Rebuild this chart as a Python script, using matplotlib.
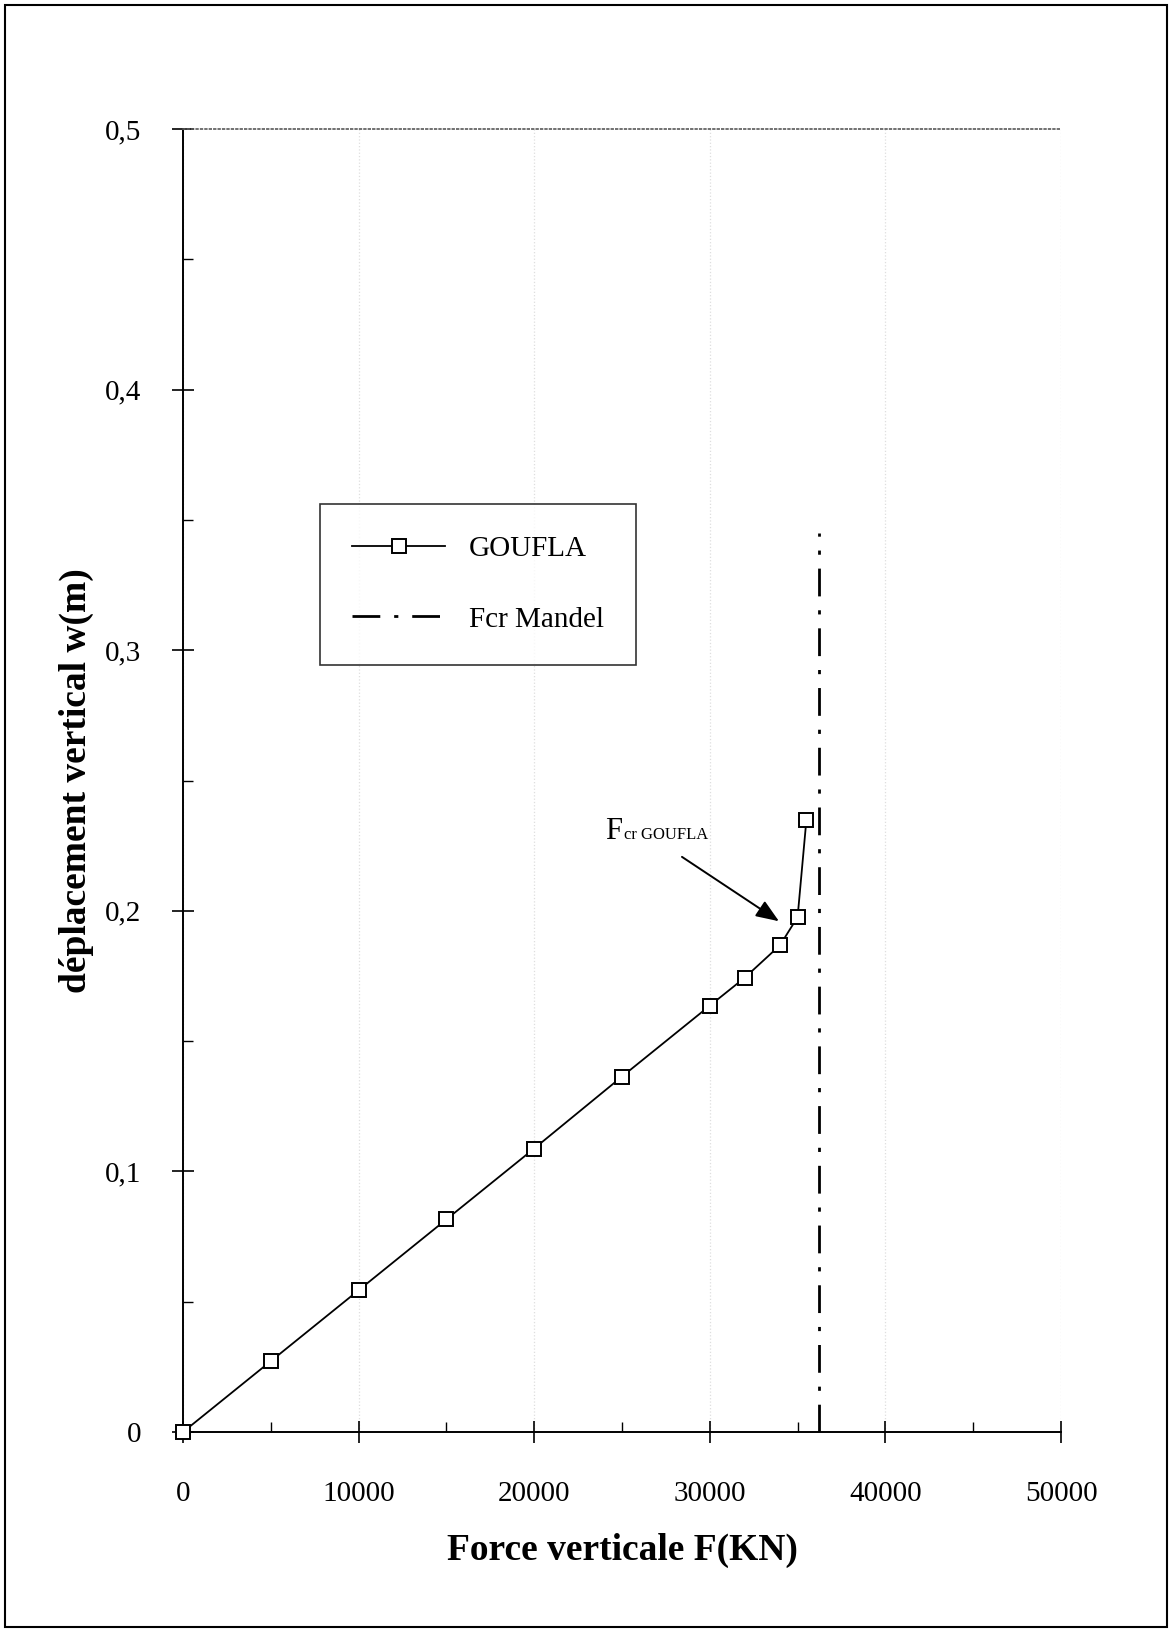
import matplotlib
matplotlib.use("Agg")
import matplotlib.pyplot as plt
from matplotlib.patches import Rectangle
from matplotlib.ticker import MultipleLocator, FuncFormatter

# Data
force = [0, 5000, 10000, 15000, 20000, 25000, 30000, 32000, 34000, 35000, 35500]
displacement = [0.0, 0.0272, 0.0544, 0.0816, 0.1088, 0.1364, 0.1636, 0.1744, 0.1868, 0.1976, 0.2348]
fcr_mandel = 36200
mandel_top = 0.345
x_ticks = [0, 10000, 20000, 30000, 40000, 50000]
y_ticks = [0, 0.1, 0.2, 0.3, 0.4, 0.5]

plt.rcParams['font.family'] = ['Liberation Serif', 'DejaVu Serif']

fig = plt.figure(figsize=(11.72, 16.32), dpi=100)
ax = fig.add_axes([0.1561, 0.1225, 0.9053 - 0.1561, 0.9210 - 0.1225])

ax.plot(force, displacement, color='black', lw=1.3, marker='s', markersize=9.5,
        markerfacecolor='white', markeredgecolor='black', markeredgewidth=1.4,
        label='GOUFLA', zorder=4, clip_on=False)
ax.plot([fcr_mandel, fcr_mandel], [0, mandel_top], color='black', lw=2,
        linestyle=(0, (10, 5, 1.5, 5)), label='Fcr Mandel', zorder=3)

ax.set_xlim(0, 50000)
ax.set_ylim(0, 0.5)
ax.set_xticks(x_ticks)
ax.set_yticks(y_ticks)
ax.xaxis.set_minor_locator(MultipleLocator(5000))
ax.yaxis.set_minor_locator(MultipleLocator(0.05))
ax.xaxis.set_major_formatter(FuncFormatter(lambda v, p: f"{int(v)}"))
ax.yaxis.set_major_formatter(FuncFormatter(lambda v, p: "0" if v == 0 else f"{v:.1f}".replace('.', ',')))

ax.tick_params(axis='both', which='major', direction='inout', length=16, width=1.2,
               labelsize=21, colors='black')
ax.tick_params(axis='x', which='major', pad=27)
ax.tick_params(axis='y', which='major', pad=22)
ax.tick_params(axis='both', which='minor', direction='in', length=7, width=1.0)

ax.spines['right'].set_visible(False)
ax.spines['top'].set_linestyle(':')
ax.spines['top'].set_color('0.35')
ax.spines['top'].set_linewidth(1.2)
ax.spines['left'].set_linewidth(1.4)
ax.spines['bottom'].set_linewidth(1.4)

ax.grid(axis='x', which='major', linestyle=':', color='0.87', lw=0.9)

ax.set_xlabel('Force verticale F(KN)', fontsize=27, fontweight='bold')
ax.set_ylabel('déplacement vertical w(m)', fontsize=27, fontweight='bold')
ax.xaxis.set_label_coords(0.5, -0.0775)
ax.yaxis.set_label_coords(-0.101, 0.5)

leg = ax.legend(loc='upper left', bbox_to_anchor=((320 - 183) / 878, (1432 - 504) / 1303),
                fontsize=21, frameon=True, fancybox=False, edgecolor='black',
                handlelength=3.2, borderpad=1.1, labelspacing=1.5, handletextpad=0.8,
                borderaxespad=0)
leg.get_frame().set_linewidth(1.2)

ax.annotate('', xy=(33940, 0.196), xytext=(28416, 0.2207),
            arrowprops=dict(arrowstyle='-|>,head_length=1.4,head_width=0.55',
                            color='black', lw=1.4, shrinkA=0, shrinkB=0))
ax.text(24032, 0.2276, 'F', fontsize=22, ha='left', va='baseline')
ax.text(25100, 0.2276, 'cr GOUFLA', fontsize=12, ha='left', va='baseline')

fig.add_artist(Rectangle((0.004, 0.003), 0.992, 0.994, transform=fig.transFigure,
                         fill=False, edgecolor='black', lw=1.5))

fig.savefig('out.png', dpi=100, facecolor='white')
